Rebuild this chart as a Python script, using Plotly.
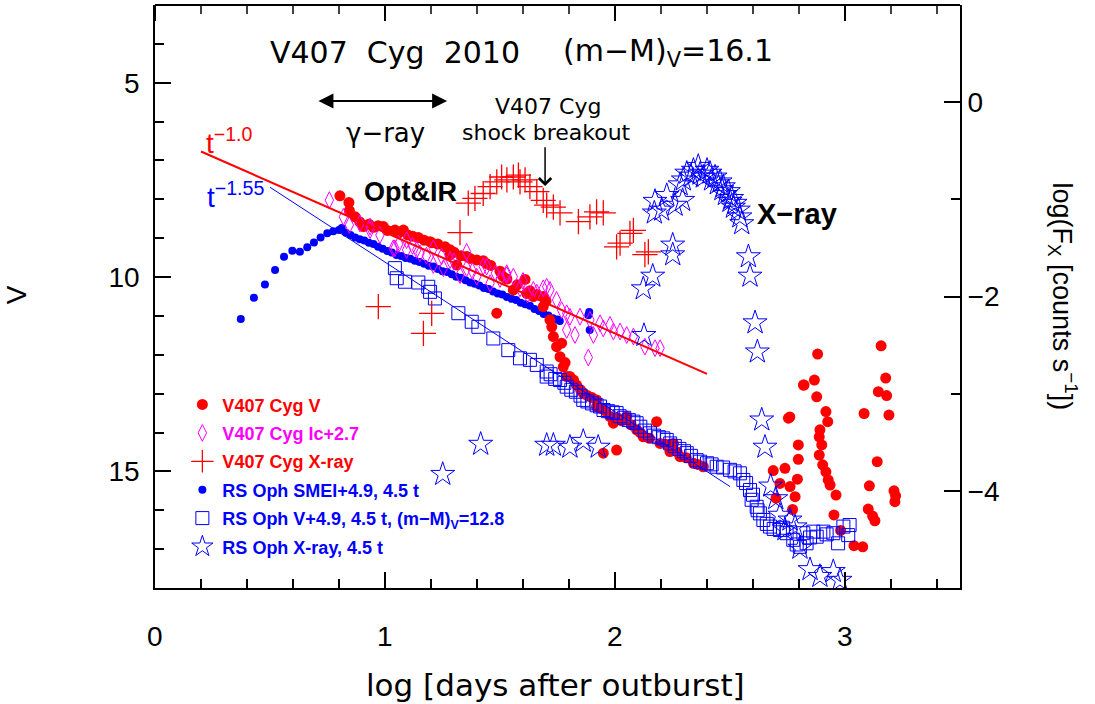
import plotly.graph_objects as go

# ---------------- data ----------------
# RS Oph SMEI + 4.9 (log t, V)
smei_x = [0.373, 0.430, 0.478, 0.522, 0.561, 0.597, 0.630, 0.662, 0.691, 0.720, 0.749, 0.775, 0.800, 0.812,
          0.83, 0.85, 0.87, 0.89, 0.91, 0.93, 0.95, 0.97, 0.99, 1.01, 1.03, 1.05, 1.07, 1.09, 1.11, 1.13,
          1.15, 1.17, 1.19, 1.21, 1.23, 1.25, 1.27, 1.29, 1.31, 1.33, 1.35, 1.37, 1.39, 1.41, 1.43, 1.45,
          1.47, 1.49, 1.51, 1.53, 1.55, 1.57, 1.59, 1.61, 1.63, 1.65, 1.67, 1.69, 1.71, 1.73, 1.75, 1.76,
          1.884, 1.888, 1.89]
smei_v = [11.08, 10.53, 10.19, 9.82, 9.48, 9.32, 9.35, 9.23, 9.11, 8.98, 8.87, 8.82, 8.79, 8.74,
          8.86, 8.92, 8.98, 9.03, 9.06, 9.12, 9.15, 9.22, 9.27, 9.33, 9.37, 9.43, 9.46, 9.51, 9.53, 9.58,
          9.61, 9.66, 9.71, 9.73, 9.79, 9.85, 9.87, 9.93, 9.99, 10.02, 10.08, 10.14, 10.17, 10.22, 10.28, 10.31,
          10.37, 10.42, 10.45, 10.51, 10.56, 10.59, 10.66, 10.70, 10.74, 10.82, 10.87, 10.95, 10.99, 11.06, 11.09, 11.13,
          10.98, 10.90, 11.36]

# V407 Cyg V (log t, V)
cygv_x = [0.804, 0.843, 0.845, 0.87, 0.89, 0.906, 0.93, 0.95, 0.97, 0.993, 1.01, 1.043, 1.06, 1.08, 1.10,
          1.12, 1.145, 1.17, 1.196, 1.203, 1.23, 1.261, 1.283, 1.283, 1.30, 1.312, 1.33, 1.355, 1.37, 1.399,
          1.427, 1.44, 1.46, 1.486, 1.50, 1.514, 1.53, 1.558, 1.575, 1.609, 1.616, 1.63, 1.645, 1.66, 1.688,
          1.688, 1.70, 1.717, 1.725, 1.732, 1.746, 1.761, 1.768, 1.775, 1.783, 1.79, 1.804, 1.82, 1.833, 1.85,
          1.862, 1.88, 1.90, 1.92, 1.92, 1.94, 1.96, 1.978, 1.993, 2.01, 2.03, 2.051, 2.07, 2.094, 2.11,
          2.123, 2.15, 2.181, 2.196, 2.22, 2.239, 2.254, 2.27, 2.283, 2.31, 2.341, 2.36, 2.384, 1.949, 2.007,
          2.688, 2.70, 2.717, 2.739, 2.754, 2.76, 2.761, 2.772, 2.783, 2.793, 2.797, 2.797, 2.819, 2.822, 2.867,
          2.877, 2.881, 2.888, 2.888, 2.891, 2.899, 2.903, 2.917, 2.917, 2.925, 2.927, 2.935, 2.952, 2.961, 2.981,
          3.039, 3.077, 3.083, 3.101, 3.106, 3.12, 3.13, 3.14, 3.145, 3.157, 3.177, 3.181, 3.191, 3.213, 3.217, 3.22]
cygv_v = [7.91, 8.08, 8.29, 8.45, 8.58, 8.70, 8.64, 8.72, 8.68, 8.70, 8.80, 8.79, 8.86, 8.79, 8.92,
          8.95, 8.98, 9.05, 9.09, 9.12, 9.15, 9.22, 9.30, 9.43, 9.36, 9.69, 9.45, 9.47, 9.52, 9.56,
          9.58, 9.65, 9.70, 10.93, 9.85, 9.99, 10.05, 10.33, 10.20, 10.06, 10.42, 10.35, 10.50, 10.45, 10.50,
          10.76, 10.62, 11.10, 11.28, 11.53, 11.79, 12.05, 11.70, 12.31, 12.20, 12.56, 12.56, 12.65, 12.78, 12.90,
          12.99, 13.05, 13.10, 13.16, 13.33, 13.38, 13.45, 13.59, 13.76, 13.62, 13.70, 13.59, 13.80, 13.93, 14.00,
          14.11, 14.15, 13.72, 14.28, 14.30, 14.49, 14.28, 14.50, 14.62, 14.65, 14.79, 14.82, 14.88, 14.53, 14.45,
          14.98, 15.69, 15.31, 14.92, 13.63, 13.60, 15.39, 15.98, 15.65, 15.20, 14.32, 14.69, 12.78, 12.78, 12.65,
          13.08, 11.98, 14.11, 14.58, 13.93, 14.32, 14.83, 13.46, 15.01, 13.72, 15.22, 15.35, 16.12, 15.61, 16.52,
          16.91, 16.94, 13.51, 15.97, 15.37, 16.15, 16.27, 14.75, 12.95, 11.77, 12.60, 13.05, 13.55, 15.50, 15.78, 15.63]

# V407 Cyg Ic + 2.7 (log t, mag)
cygi_x = [0.758, 0.819, 0.845, 0.891, 0.935, 0.935, 0.978, 1.036, 1.043, 1.06, 1.094, 1.094, 1.12, 1.138,
          1.152, 1.18, 1.21, 1.21, 1.246, 1.254, 1.283, 1.30, 1.326, 1.355, 1.355, 1.38, 1.399, 1.427, 1.442,
          1.457, 1.48, 1.50, 1.529, 1.529, 1.558, 1.587, 1.60, 1.62, 1.645, 1.66, 1.688, 1.703, 1.717, 1.746,
          1.768, 1.79, 1.79, 1.804, 1.826, 1.848, 1.884, 1.891, 1.906, 1.935, 1.949, 1.978, 1.993, 2.022,
          2.051, 2.08, 2.13, 2.174, 2.196]
cygi_v = [8.02, 8.45, 8.66, 8.62, 8.79, 8.70, 8.92, 9.26, 9.26, 9.15, 9.05, 9.30, 9.20, 9.30,
          9.39, 9.45, 9.26, 9.69, 9.47, 9.77, 9.56, 9.60, 9.95, 9.35, 9.77, 9.85, 9.99, 9.73, 9.73,
          10.16, 9.90, 10.05, 9.90, 9.95, 9.99, 10.29, 10.10, 10.45, 10.33, 10.40, 10.29, 10.25, 10.33, 10.59,
          10.85, 10.93, 11.36, 11.02, 11.49, 11.02, 12.07, 11.10, 11.49, 11.19, 11.32, 11.23, 11.40, 11.40,
          11.49, 11.53, 11.79, 11.83, 11.83]

# RS Oph V + 4.9 (log t, V)
rsv_x = [1.043, 1.051, 1.087, 1.145, 1.188, 1.196, 1.217, 1.319, 1.377, 1.406, 1.471, 1.536, 1.587, 1.63,
         1.66, 1.703, 1.703, 1.72, 1.74, 1.761, 1.78, 1.79, 1.81, 1.83, 1.85, 1.862, 1.88, 1.90, 1.92,
         1.935, 1.95, 1.97, 1.99, 2.007, 2.02, 2.04, 2.06, 2.08, 2.094, 2.11, 2.13, 2.152, 2.17, 2.19,
         2.21, 2.225, 2.24, 2.26, 2.28, 2.30, 2.312, 2.33, 2.355, 2.37, 2.40, 2.42, 2.442, 2.47, 2.50,
         2.52, 2.543, 2.558, 2.57, 2.587, 2.594, 2.60, 2.616, 2.62, 2.63, 2.645, 2.66, 2.674, 2.69, 2.717,
         2.73, 2.746, 2.775, 2.79, 2.804, 2.819, 2.833, 2.848, 2.862, 2.877, 2.906, 2.92, 2.949, 2.97,
         2.993, 3.014, 3.02]
rsv_v = [9.77, 10.03, 10.12, 10.14, 10.25, 10.38, 10.55, 10.93, 11.15, 11.28, 11.58, 11.88, 12.09, 12.13,
         12.26, 12.43, 12.56, 12.50, 12.62, 12.65, 12.72, 12.82, 12.90, 12.95, 13.05, 13.16, 13.20, 13.25, 13.30,
         13.33, 13.42, 13.45, 13.48, 13.50, 13.58, 13.62, 13.68, 13.72, 13.76, 13.85, 13.95, 14.02, 14.08, 14.12,
         14.15, 14.19, 14.28, 14.35, 14.42, 14.48, 14.53, 14.60, 14.71, 14.75, 14.79, 14.82, 14.88, 14.90, 14.96,
         15.00, 15.05, 15.22, 15.30, 15.48, 15.73, 15.60, 15.91, 16.00, 16.08, 16.25, 16.35, 16.42, 16.48, 16.51,
         16.45, 16.59, 16.76, 16.88, 16.94, 16.59, 16.85, 16.70, 16.55, 16.68, 16.55, 16.62, 16.59, 16.85,
         16.42, 16.64, 16.38]

# V407 Cyg X-ray (log t, log Fx)
cygx_x = [0.971, 1.167, 1.203, 1.326, 1.362, 1.391, 1.427, 1.457, 1.486, 1.507, 1.53, 1.558, 1.58, 1.587,
          1.609, 1.63, 1.66, 1.688, 1.703, 1.732, 1.761, 1.841, 1.891, 1.92, 1.949, 2.007, 2.022, 2.065,
          2.08, 2.13, 2.145]
cygx_f = [-2.105, -2.379, -2.173, -1.343, -1.04, -0.99, -0.94, -0.87, -0.82, -0.77, -0.80, -0.77, -0.75, -0.82,
          -0.80, -0.87, -0.92, -1.01, -1.06, -1.08, -1.14, -1.23, -1.18, -1.13, -1.14, -1.49, -1.45, -1.35,
          -1.32, -1.57, -1.54]

# RS Oph X-ray (log t, log Fx)
rsx_x = [1.251, 1.416, 1.703, 1.732, 1.804, 1.862, 1.927, 2.123, 2.126, 2.164, 2.171, 2.174, 2.203, 2.225,
         2.251, 2.251, 2.261, 2.283, 2.294, 2.297, 2.312, 2.33, 2.341, 2.362, 2.37, 2.384, 2.40, 2.413, 2.42,
         2.435, 2.445, 2.457, 2.465, 2.471, 2.48, 2.493, 2.50, 2.507, 2.515, 2.522, 2.536, 2.543, 2.551, 2.58,
         2.587, 2.609, 2.619, 2.638, 2.652, 2.677, 2.699, 2.717, 2.739, 2.761, 2.783, 2.804, 2.848, 2.891,
         2.949, 2.978]
rsx_f = [-3.83, -3.52, -3.53, -3.53, -3.55, -3.49, -3.55, -1.92, -2.40, -1.79, -1.14, -1.02, -1.11, -0.96,
         -1.47, -1.57, -1.06, -0.85, -1.01, -0.80, -0.73, -0.76, -0.70, -0.66, -0.74, -0.77, -0.70, -0.73, -0.80,
         -0.77, -0.84, -0.82, -0.90, -0.87, -0.95, -0.92, -1.02, -0.99, -1.08, -1.04, -1.11, -1.18, -1.25, -1.59,
         -1.79, -2.27, -2.57, -3.27, -3.55, -3.95, -4.08, -4.25, -4.40, -4.30, -4.37, -4.59, -4.81, -4.88,
         -4.83, -4.92]

# power-law guide lines (log t, V)
t10_x = [0.2, 2.4]
t10_v = [6.77, 12.49]
t155_x = [0.5, 2.5]
t155_v = [7.69, 15.39]

# axis ticks
x_major = [0, 1, 2, 3]
x_labels = ["0", "1", "2", "3"]
x_top_minor = [0.2, 0.4, 0.6, 0.8, 1.2, 1.4, 1.6, 1.8, 2.2, 2.4, 2.6, 2.8, 3.2, 3.4]
x_step, x_minor = 1, 0.2
y_step, y_minor = 5, 1
y2_step, y2_minor = 2, 1

RED = "#ff0000"
BLUE = "#0000ff"
MAG = "#ff00ff"
FONT = "Liberation Sans"
WFONT = "DejaVu Sans"

fig = go.Figure()

def nm(text, color):
    return f'<span style="color:{color}">{text}</span>'

fig.add_trace(go.Scatter(x=smei_x, y=smei_v, mode="markers", legendgroup="g4", legendrank=4,
                         name=nm("RS Oph SMEI+4.9, 4.5 t", BLUE),
                         marker=dict(symbol="circle", size=8, color=BLUE, line=dict(width=0))))
fig.add_trace(go.Scatter(x=cygv_x, y=cygv_v, mode="markers", legendgroup="g1", legendrank=1,
                         name=nm("V407 Cyg V", RED),
                         marker=dict(symbol="circle", size=11, color=RED, line=dict(width=0))))
fig.add_trace(go.Scatter(x=cygi_x, y=cygi_v, mode="markers", legendgroup="g2", legendrank=2,
                         name=nm("V407 Cyg Ic+2.7", MAG),
                         marker=dict(symbol="diamond-tall-open", size=12, color=MAG, line=dict(width=1))))
fig.add_trace(go.Scatter(x=rsv_x, y=rsv_v, mode="markers", legendgroup="g5", legendrank=5,
                         name=nm("RS Oph V+4.9, 4.5 t, (m−M)<sub>V</sub>=12.8", BLUE),
                         marker=dict(symbol="square-open", size=13, color=BLUE, line=dict(width=1))))
fig.add_trace(go.Scatter(x=t10_x, y=t10_v, mode="lines", showlegend=False,
                         line=dict(color=RED, width=2)))
fig.add_trace(go.Scatter(x=t155_x, y=t155_v, mode="lines", showlegend=False,
                         line=dict(color=BLUE, width=1)))
fig.add_trace(go.Scatter(x=cygx_x, y=cygx_f, mode="markers", yaxis="y2", legendgroup="g3", legendrank=3,
                         name=nm("V407 Cyg X-ray", RED),
                         marker=dict(symbol="cross-thin-open", size=18, color=RED, line=dict(width=1.3, color=RED))))
fig.add_trace(go.Scatter(x=rsx_x, y=rsx_f, mode="markers", yaxis="y2", legendgroup="g6", legendrank=6,
                         name=nm("RS Oph X-ray, 4.5 t", BLUE),
                         marker=dict(symbol="star-open", size=18, color=BLUE, line=dict(width=1))))

fig.update_layout(
    width=1095, height=704,
    margin=dict(l=155, r=135, t=5, b=116),
    paper_bgcolor="white", plot_bgcolor="white",
    xaxis=dict(range=[0, 3.5], dtick=x_step, showline=True, linewidth=2, linecolor="black",
               ticks="inside", ticklen=16, tickwidth=2, tickcolor="black", showgrid=False, zeroline=False,
               showticklabels=False,
               minor=dict(dtick=x_minor, ticklen=9, ticks="inside", tickcolor="black", tickwidth=1.5)),
    yaxis=dict(range=[18, 3], dtick=y_step, showline=True, linewidth=2, linecolor="black",
               ticks="inside", ticklen=16, tickwidth=2, tickcolor="black", showgrid=False, zeroline=False,
               ticksuffix=" ", tickfont=dict(family=FONT, size=28, color="black"),
               minor=dict(dtick=y_minor, ticklen=9, ticks="inside", tickcolor="black", tickwidth=1.5)),
    yaxis2=dict(range=[-5, 1], dtick=y2_step, overlaying="y", side="right", showline=True, linewidth=2,
                linecolor="black", ticks="inside", ticklen=16, tickwidth=2, tickcolor="black",
                showgrid=False, zeroline=False, tickfont=dict(family=FONT, size=28, color="black"),
                minor=dict(dtick=y2_minor, ticklen=9, ticks="inside", tickcolor="black", tickwidth=1.5)),
    showlegend=True,
    legend=dict(x=0.034, y=0.346, xanchor="left", yanchor="top", bgcolor="rgba(0,0,0,0)",
                font=dict(family=FONT, size=18, color="black", weight="bold"), tracegroupgap=2,
                traceorder="grouped", itemsizing="trace"),
)

# top frame line and top (mirrored) ticks
fig.add_shape(type="line", xref="paper", yref="paper", x0=0, x1=1, y0=1, y1=1,
              line=dict(color="black", width=2), layer="above")
for v in x_major:
    fig.add_shape(type="line", xref="x", yref="paper", x0=v, x1=v, ysizemode="pixel",
                  yanchor=1, y0=0, y1=-16, line=dict(color="black", width=2), layer="above")
for v in x_top_minor:
    fig.add_shape(type="line", xref="x", yref="paper", x0=v, x1=v, ysizemode="pixel",
                  yanchor=1, y0=0, y1=-9, line=dict(color="black", width=1.5), layer="above")

def txt(x, y, text, size, color="black", bold=False, xref="x", yref="y", angle=0, family=FONT):
    if bold:
        text = f"<b>{text}</b>"
    fig.add_annotation(x=x, y=y, xref=xref, yref=yref, text=text, showarrow=False,
                       font=dict(family=family, size=size, color=color), textangle=angle,
                       xanchor="center", yanchor="middle")

# x tick labels
for v, lab in zip(x_major, x_labels):
    txt(v, -0.084, lab, 28, yref="paper")

txt(1.043, 4.21, "V407  Cyg  2010", 30, family=WFONT)
txt(2.23, 4.21, "(m−M)<sub>V</sub>=16.1", 30, family=WFONT)
txt(1.004, 6.29, "γ−ray", 26, family=WFONT)
txt(1.709, 5.62, "V407 Cyg", 22, family=WFONT)
txt(1.70, 6.29, "shock breakout", 22, family=WFONT)
txt(1.109, 7.81, "Opt&IR", 27, bold=True)
txt(2.791, 8.38, "X−ray", 29, bold=True)
txt(0.325, 6.5, "t<sup>−1.0</sup>", 28, color=RED)
txt(0.35, 7.9, "t<sup>−1.55</sup>", 28, color=BLUE)

# axis titles
txt(0.497, -0.166, "log [days after outburst]", 31, xref="paper", yref="paper", family=WFONT)
txt(-0.172, 0.503, "V", 28, xref="paper", yref="paper", angle=-90)
txt(1.128, 0.50, "log(F<sub>X</sub> [counts s<sup>−1</sup>])", 27, xref="paper", yref="paper", angle=90)

# gamma-ray double arrow
fig.add_annotation(x=1.270, y=5.47, ax=0.704, ay=5.47, xref="x", yref="y", axref="x", ayref="y",
                   text="", showarrow=True, arrowhead=2, startarrowhead=2, arrowside="end+start",
                   arrowsize=1.5, startarrowsize=1.5, arrowwidth=2, arrowcolor="black")
# shock breakout arrow
fig.add_annotation(x=1.696, y=7.66, ax=1.696, ay=6.62, xref="x", yref="y", axref="x", ayref="y",
                   text="", showarrow=True, arrowhead=4, arrowsize=1.6, arrowwidth=1.5, arrowcolor="black")

fig.write_html("out.html")
